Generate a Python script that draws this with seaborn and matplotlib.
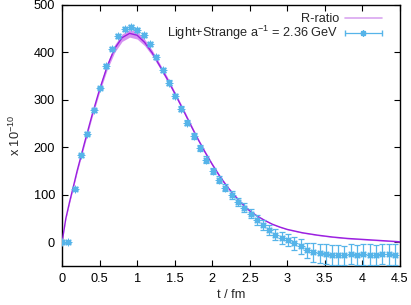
import numpy as np
import pandas as pd
import matplotlib
matplotlib.use("Agg")
import matplotlib.pyplot as plt
import seaborn as sns
from matplotlib.lines import Line2D
from matplotlib.legend_handler import HandlerLine2D, HandlerTuple

# ---- data: lattice points (Light+Strange, a^-1 = 2.36 GeV) ----
t_lat = [0.00, 0.08, 0.17, 0.25, 0.33, 0.42, 0.50, 0.59, 0.67, 0.75,
         0.84, 0.92, 1.00, 1.09, 1.17, 1.25, 1.34, 1.42, 1.51, 1.59,
         1.67, 1.76, 1.84, 1.92, 2.01, 2.09, 2.17, 2.26, 2.34, 2.42,
         2.51, 2.59, 2.68, 2.76, 2.84, 2.93, 3.01, 3.09, 3.18, 3.26,
         3.34, 3.43, 3.51, 3.59, 3.68, 3.76, 3.85, 3.93, 4.01, 4.10,
         4.18, 4.26, 4.35, 4.43]
v_lat = [0, 0, 113, 183, 229, 278, 325, 371, 408, 435,
         449, 454, 447, 437, 417, 390, 363, 336, 308, 281,
         252, 224, 198, 174, 150, 132, 115, 99, 85, 73,
         60, 47, 36, 26, 16, 9, 4, -2, -9, -17,
         -21, -23, -25, -26, -27, -27, -25, -26, -25, -26,
         -26, -25, -25, -26]
e_lat = [1, 1, 3, 3, 3, 3, 3, 4, 4, 4,
         4, 4, 4, 4, 4, 4, 5, 5, 5, 5,
         6, 6, 6, 7, 7, 8, 8, 8, 9, 9,
         10, 10, 11, 11, 12, 13, 13, 14, 15, 16,
         20, 20, 21, 21, 21, 20, 21, 21, 22, 22,
         21, 21, 22, 22]

# ---- R-ratio curve with band ----
t_rr = [0.0, 0.05, 0.1, 0.15, 0.2, 0.25, 0.3, 0.4, 0.5, 0.6, 0.7, 0.8, 0.9,
        1.0, 1.1, 1.2, 1.3, 1.4, 1.5, 1.6, 1.7, 1.8, 1.9, 2.0, 2.1, 2.2,
        2.3, 2.4, 2.5, 2.6, 2.7, 2.8, 2.9, 3.0, 3.2, 3.4, 3.6, 3.8, 4.0,
        4.2, 4.4, 4.5]
v_rr = [0, 50, 85, 117, 150, 180, 210, 268, 322, 370, 408, 431, 440,
        436, 421, 399, 372, 344, 314, 283, 251, 220, 191, 164, 139, 117,
        98, 81, 66, 55, 46, 38, 32, 27, 20, 15, 11, 8, 6,
        4, 2, 1]
e_rr = [0, 2, 3, 3, 4, 4, 5, 5, 6, 7, 8, 8, 8,
        8, 7, 6, 5, 5, 4, 4, 4, 3, 3, 3, 3, 2,
        2, 2, 2, 2, 1, 1, 1, 1, 1, 1, 1, 1, 1,
        1, 1, 1]

x_ticks = [0, 0.5, 1, 1.5, 2, 2.5, 3, 3.5, 4, 4.5]
x_ticklabels = ["0", "0.5", "1", "1.5", "2", "2.5", "3", "3.5", "4", "4.5"]
y_ticks = [0, 100, 200, 300, 400, 500]

df_rr = pd.DataFrame({"t": t_rr, "v": v_rr, "e": e_rr})
df_lat = pd.DataFrame({"t": t_lat, "v": v_lat, "e": e_lat})

FS = 9.2
sns.set_theme(style="ticks")
plt.rcParams["font.family"] = ["Liberation Sans", "DejaVu Sans"]
plt.rcParams["font.size"] = FS
plt.rcParams["mathtext.fontset"] = "custom"
plt.rcParams["mathtext.rm"] = "Liberation Sans"
plt.rcParams["mathtext.it"] = "Liberation Sans"
plt.rcParams["mathtext.default"] = "regular"

fig = plt.figure(figsize=(4.11, 3.05), dpi=100)
ax = fig.add_axes([0.151, 0.128, 0.822, 0.856])

c_line = "#9a1fe0"
c_band = "#cc77ee"
c_leg = "#d9a6f0"
c_pts = "#56b4e9"

ax.fill_between(df_rr["t"], df_rr["v"] - df_rr["e"], df_rr["v"] + df_rr["e"],
                color=c_band, alpha=0.8, lw=0, zorder=2)
sns.lineplot(data=df_rr, x="t", y="v", ax=ax, color=c_line, lw=1.0,
             zorder=3, legend=False)

ast = (8, 2, 0)
ax.errorbar(df_lat["t"], df_lat["v"], yerr=df_lat["e"], fmt="none",
            ecolor=c_pts, elinewidth=0.9, capsize=2.2, capthick=0.9, zorder=4)
sns.scatterplot(data=df_lat, x="t", y="v", ax=ax, marker=ast, s=22,
                color=c_pts, linewidth=0.9, zorder=5, legend=False)

ax.set_xlim(0, 4.5)
ax.set_ylim(-50, 500)
ax.set_xticks(x_ticks)
ax.set_xticklabels(x_ticklabels)
ax.set_yticks(y_ticks)
ax.tick_params(direction="in", top=True, right=True, length=4, width=0.8,
               labelsize=FS, colors="black", pad=5)
for s in ax.spines.values():
    s.set_linewidth(1.0)
    s.set_color("black")
    s.set_visible(True)
ax.set_xlabel("t / fm", fontsize=FS, labelpad=3)
ax.set_ylabel(r"x 10$^{-10}$", fontsize=FS, labelpad=8)

h1 = Line2D([], [], color=c_leg, lw=1.2)
h2a = Line2D([], [], color=c_pts, lw=0.9, marker=ast, markersize=4.5)
h2b = Line2D([], [], color=c_pts, lw=0, marker="|", markersize=5)
leg = ax.legend([h1, (h2a, h2b)],
                ["R-ratio", r"Light+Strange a$^{-1}$ = 2.36 GeV"],
                loc="upper right", frameon=False, markerfirst=False,
                handlelength=2.9, fontsize=FS, numpoints=1,
                borderaxespad=0.0, borderpad=0.0, labelspacing=-0.1,
                handletextpad=0.45,
                bbox_to_anchor=(0.946, 0.968),
                handler_map={h2b: HandlerLine2D(numpoints=2, marker_pad=0.0),
                             tuple: HandlerTuple(ndivide=1, pad=0)})
for txt in leg.get_texts():
    txt.set_ha("right")

fig.savefig("out.png", dpi=100)
